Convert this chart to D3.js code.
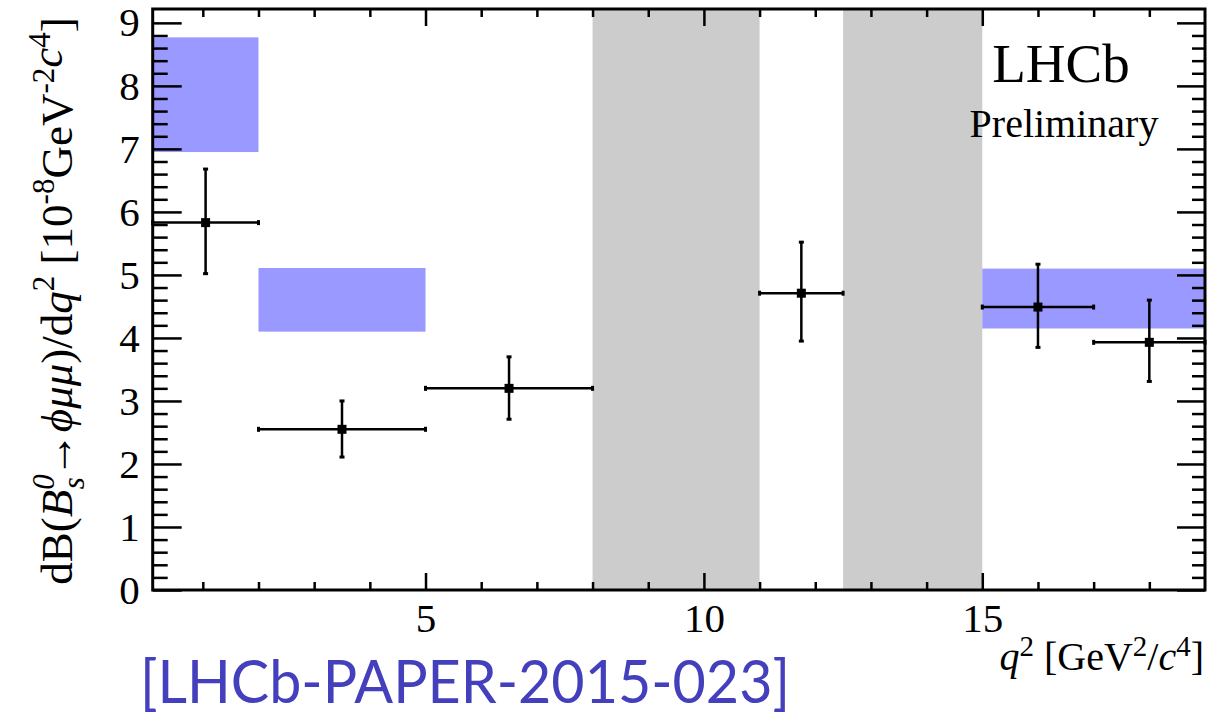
<!DOCTYPE html>
<html><head><meta charset="utf-8">
<script src="https://cdn.jsdelivr.net/npm/d3@7"></script>
<style>
body{margin:0;background:#fff;}
svg{display:block;}
</style></head>
<body>
<svg id="c" width="1211" height="718"></svg>
<script>
// ---- data ----
const binLo  = [0.1, 2, 5, 11, 15, 17];
const binHi  = [2, 5, 8, 12.5, 17, 19];
const binX   = [1.05, 3.5, 6.5, 11.75, 16, 18];
const values = [5.83, 2.55, 3.20, 4.71, 4.49, 3.93];
const errUp  = [0.85, 0.45, 0.50, 0.81, 0.68, 0.67];
const errDn  = [0.81, 0.44, 0.49, 0.76, 0.64, 0.62];

const theoryLo  = [0.1, 2, 15];
const theoryHi  = [2, 5, 19];
const theoryMin = [6.95, 4.10, 4.15];
const theoryMax = [8.77, 5.11, 5.10];

const vetoLo = [8, 12.5];
const vetoHi = [11, 15];

const xMajor = [5, 10, 15];
const xMinor = [1,2,3,4,6,7,8,9,11,12,13,14,16,17,18];
const yMajor = [0,1,2,3,4,5,6,7,8,9];
const yMinor = d3.range(0, 46).map(i => i*0.2).filter(v => Math.abs(v - Math.round(v)) > 1e-6);

// ---- layout ----
const SERIF = '"Liberation Serif","DejaVu Serif",serif';
const L = 152.7, R = 1205, T = 9, B = 590;
const x = d3.scaleLinear().domain([0.1, 19]).range([L, R]);
const y = d3.scaleLinear().domain([0, 9.22]).range([B, T]);
const svg = d3.select("#c");

// vetoed regions
svg.append("g").selectAll("rect").data(vetoLo).join("rect")
  .attr("x", (d,i) => x(d)).attr("width", (d,i) => x(vetoHi[i]) - x(d))
  .attr("y", T).attr("height", B - T).attr("fill", "#cccccc");

// theory boxes
svg.append("g").selectAll("rect").data(theoryLo).join("rect")
  .attr("x", (d,i) => x(d)).attr("width", (d,i) => x(theoryHi[i]) - x(d))
  .attr("y", (d,i) => y(theoryMax[i])).attr("height", (d,i) => y(theoryMin[i]) - y(theoryMax[i]))
  .attr("fill", "#9999ff");

// data points
const pts = svg.append("g").attr("stroke", "#000").attr("stroke-width", 2.5);
values.forEach((v, i) => {
  const cx = x(binX[i]), cy = y(v);
  pts.append("line").attr("x1", x(binLo[i])).attr("x2", x(binHi[i])).attr("y1", cy).attr("y2", cy);
  pts.append("line").attr("x1", cx).attr("x2", cx).attr("y1", y(v + errUp[i])).attr("y2", y(v - errDn[i]));
  [[x(binLo[i]), cy, 0], [x(binHi[i]), cy, 0], [cx, y(v + errUp[i]), 1], [cx, y(v - errDn[i]), 1]].forEach(([px, py, vert]) => {
    if (vert) pts.append("line").attr("x1", px-2.5).attr("x2", px+2.5).attr("y1", py).attr("y2", py).attr("stroke-width", 3);
    else pts.append("line").attr("x1", px).attr("x2", px).attr("y1", py-2.5).attr("y2", py+2.5).attr("stroke-width", 3);
  });
  pts.append("rect").attr("x", cx - 4.5).attr("y", cy - 4.5).attr("width", 9).attr("height", 9)
    .attr("fill", "#000").attr("stroke", "none");
});

// axes
function styleAxis(g, fs) {
  g.select(".domain").remove();
  g.attr("font-family", SERIF).attr("font-size", fs);
  g.selectAll(".tick line").attr("stroke", "#000").attr("stroke-width", 2.5);
  g.selectAll("text").attr("fill", "#000");
}
svg.append("g").attr("transform", `translate(0,${B})`)
  .call(d3.axisBottom(x).tickValues(xMajor).tickSize(-17).tickPadding(13).tickFormat(d3.format("d")))
  .call(g => styleAxis(g, 41));
svg.append("g").attr("transform", `translate(0,${B})`)
  .call(d3.axisBottom(x).tickValues(xMinor).tickSize(-8).tickFormat(""))
  .call(g => styleAxis(g, 41));
svg.append("g").attr("transform", `translate(0,${T})`)
  .call(d3.axisTop(x).tickValues(xMajor).tickSize(-17).tickFormat(""))
  .call(g => styleAxis(g, 41));
svg.append("g").attr("transform", `translate(0,${T})`)
  .call(d3.axisTop(x).tickValues(xMinor).tickSize(-8).tickFormat(""))
  .call(g => styleAxis(g, 41));
svg.append("g").attr("transform", `translate(${L},0)`)
  .call(d3.axisLeft(y).tickValues(yMajor).tickSize(-29).tickPadding(13).tickFormat(d3.format("d")))
  .call(g => styleAxis(g, 41));
svg.append("g").attr("transform", `translate(${L},0)`)
  .call(d3.axisLeft(y).tickValues(yMinor).tickSize(-15).tickFormat(""))
  .call(g => styleAxis(g, 41));
svg.append("g").attr("transform", `translate(${R},0)`)
  .call(d3.axisRight(y).tickValues(yMajor).tickSize(-28).tickFormat(""))
  .call(g => styleAxis(g, 41));
svg.append("g").attr("transform", `translate(${R},0)`)
  .call(d3.axisRight(y).tickValues(yMinor).tickSize(-13).tickFormat(""))
  .call(g => styleAxis(g, 41));

// frame
svg.append("rect").attr("x", L).attr("y", T).attr("width", R - L).attr("height", B - T)
  .attr("fill", "none").attr("stroke", "#000").attr("stroke-width", 3);

// LHCb label
svg.append("text").attr("x", 1061).attr("y", 82).attr("text-anchor", "middle")
  .attr("font-family", SERIF).attr("font-size", 55).text("LHCb");
svg.append("text").attr("x", 1064).attr("y", 137).attr("text-anchor", "middle")
  .attr("font-family", SERIF).attr("font-size", 40).text("Preliminary");

// x title
const xt = svg.append("text").attr("x", 1204).attr("y", 670).attr("text-anchor", "end")
  .attr("font-family", SERIF).attr("font-size", 40);
xt.append("tspan").attr("font-style", "italic").text("q");
xt.append("tspan").attr("dy", -14).attr("font-size", 29).text("2");
xt.append("tspan").attr("dy", 14).text(" [GeV");
xt.append("tspan").attr("dy", -14).attr("font-size", 29).text("2");
xt.append("tspan").attr("dy", 14).text("/");
xt.append("tspan").attr("font-style", "italic").text("c");
xt.append("tspan").attr("dy", -14).attr("font-size", 29).text("4");
xt.append("tspan").attr("dy", 14).text("]");

// y title
const yt = svg.append("text").attr("transform", "translate(72,301) rotate(-90)")
  .attr("text-anchor", "middle").attr("font-family", SERIF).attr("font-size", 45);
yt.append("tspan").text("dB(");
yt.append("tspan").attr("font-style", "italic").text("B");
yt.append("tspan").attr("dy", -18).attr("font-size", 31).attr("font-style", "italic").text("0");
yt.append("tspan").attr("dy", 30).attr("dx", -15).attr("font-size", 31).attr("font-style", "italic").text("s");
yt.append("tspan").attr("dy", -12).text("\u2192");
yt.append("tspan").attr("font-style", "italic").text("\u03D5\u03BC\u03BC");
yt.append("tspan").text(")/d");
yt.append("tspan").attr("font-style", "italic").text("q");
yt.append("tspan").attr("dy", -18).attr("font-size", 31).text("2");
yt.append("tspan").attr("dy", 18).text(" [10");
yt.append("tspan").attr("dy", -18).attr("font-size", 31).text("-8");
yt.append("tspan").attr("dy", 18).text("GeV");
yt.append("tspan").attr("dy", -18).attr("font-size", 31).text("-2");
yt.append("tspan").attr("font-size", 45).attr("dy", 8).attr("font-style", "italic").text("c");
yt.append("tspan").attr("dy", -12).attr("font-size", 31).text("4");
yt.append("tspan").attr("dy", 22).text("]");

// reference
svg.append("text").attr("x", 140).attr("y", 703).attr("font-size", 60)
  .attr("font-family", "Lato, 'Open Sans', sans-serif").attr("fill", "#4440bd")
  .attr("textLength", 650).attr("lengthAdjust", "spacingAndGlyphs")
  .text("[LHCb-PAPER-2015-023]");
</script>
</body></html>
